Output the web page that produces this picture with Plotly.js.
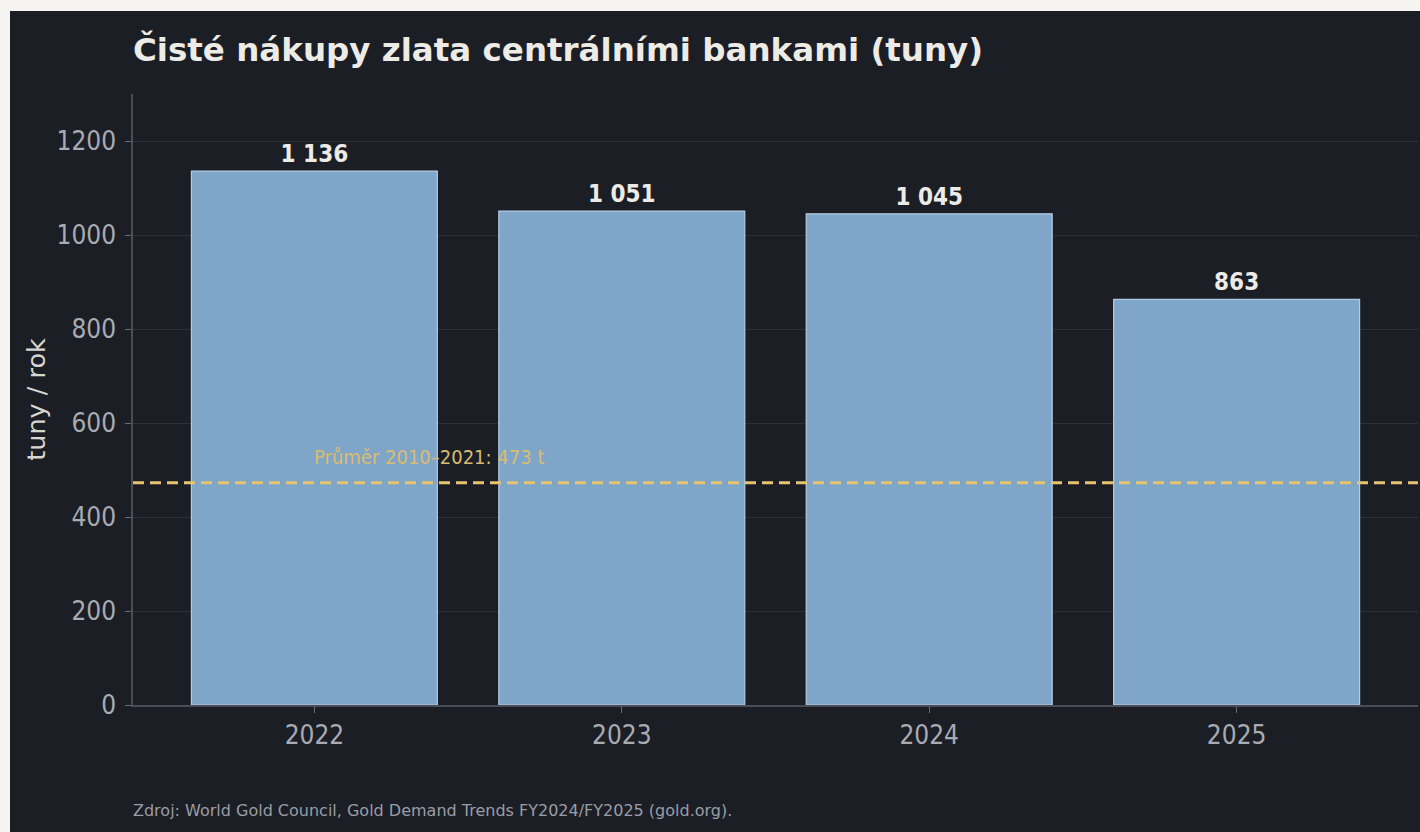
<!DOCTYPE html>
<html>
<head>
<meta charset="utf-8">
<script src="https://cdn.plot.ly/plotly-3.0.1.min.js"></script>
<style>
  html, body { margin: 0; padding: 0; background: #f5f4f0; width: 1420px; height: 832px; overflow: hidden; }
  #chart { position: absolute; left: 10px; top: 11px; width: 1410px; height: 821px; background: #1c1e25; }
</style>
</head>
<body>
<div id="chart"></div>
<script>
const years = ['2022', '2023', '2024', '2025'];
const purchases = [1136, 1051, 1045, 863];
const averageValue = 473;
const averageLabel = 'Průměr 2010–2021: ' + averageValue + ' t';
const titleText = 'Čisté nákupy zlata centrálními bankami (tuny)';
const yTitle = 'tuny / rok';
const sourceText = 'Zdroj: World Gold Council, Gold Demand Trends FY2024/FY2025 (gold.org).';
const yTicks = [0, 200, 400, 600, 800, 1000, 1200];

const FONT_C = '"DejaVu Sans Condensed", "DejaVu Sans", sans-serif';
const FONT = '"DejaVu Sans", sans-serif';
const BG = '#1c1e25';

const trace = {
  type: 'bar',
  x: years,
  y: purchases,
  width: 0.8,
  marker: { color: '#7fa6c9', line: { color: '#b4cce3', width: 1.2 } },
  texttemplate: '%{y:,}',
  textposition: 'outside',
  cliponaxis: false,
  textfont: { family: FONT_C, size: 24, color: '#ecebe6', weight: 'bold' },
  hoverinfo: 'x+y'
};

const layout = {
  width: 1410,
  height: 821,
  paper_bgcolor: BG,
  plot_bgcolor: BG,
  separators: ', ',
  margin: { l: 123, r: 2, t: 83, b: 127 },
  showlegend: false,
  bargap: 0.2,
  font: { family: FONT_C, color: '#a9abb2' },
  title: {
    text: '<b>' + titleText + '</b>',
    x: 0, xref: 'paper', xanchor: 'left',
    y: 1 - 39 / 821, yref: 'container', yanchor: 'middle',
    font: { family: FONT, size: 32.5, color: '#ecebe6' }
  },
  xaxis: {
    type: 'category',
    range: [-0.59, 3.59],
    showgrid: false,
    showline: true, linecolor: '#4a4d58', linewidth: 1.5,
    ticks: 'outside', ticklen: 6, tickcolor: '#6a6d77', tickwidth: 1.2,
    tickfont: { family: FONT_C, size: 26, color: '#a9abb2' },
    zeroline: false,
    fixedrange: true
  },
  yaxis: {
    range: [0, 1300],
    tickvals: yTicks,
    ticktext: yTicks.map(String),
    showgrid: true, gridcolor: '#2d3039', gridwidth: 1,
    showline: true, linecolor: '#4a4d58', linewidth: 1.5,
    ticks: 'outside', ticklen: 6, tickcolor: '#6a6d77', tickwidth: 1.2,
    ticklabelstandoff: 4,
    tickfont: { family: FONT_C, size: 26, color: '#a9abb2' },
    zeroline: false,
    title: { text: yTitle, standoff: 4, font: { family: FONT, size: 25.5, color: '#d8d6d0' } },
    fixedrange: true
  },
  shapes: [{
    type: 'line', xref: 'paper', x0: 0, x1: 1, yref: 'y', y0: averageValue, y1: averageValue,
    layer: 'above',
    line: { color: '#e6c46f', width: 3, dash: '11px,6px' }
  }],
  annotations: [
    {
      xref: 'x', x: 0, xanchor: 'left', xshift: -2,
      yref: 'y', y: averageValue, yanchor: 'bottom', yshift: 12,
      text: averageLabel, showarrow: false,
      font: { family: FONT_C, size: 20, color: '#d9bc72' }
    },
    {
      xref: 'paper', x: 0, xanchor: 'left', xshift: -2,
      yref: 'paper', y: -0.172, yanchor: 'middle',
      text: sourceText, showarrow: false,
      font: { family: FONT, size: 16, color: '#9a9da5' }
    }
  ]
};

Plotly.newPlot('chart', [trace], layout, { displayModeBar: false, responsive: false });
</script>
</body>
</html>
